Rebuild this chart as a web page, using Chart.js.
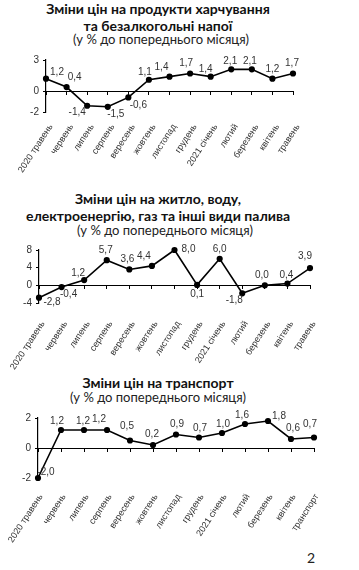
<!DOCTYPE html>
<html>
<head>
<meta charset="utf-8">
<script src="https://cdn.jsdelivr.net/npm/chart.js@4.4.1/dist/chart.umd.min.js"></script>
<style>
  body { margin: 0; background: #fff; width: 359px; height: 570px; position: relative; overflow: hidden; }
  .ttl { position: absolute; left: 0; width: 316px; text-align: center; font-family: Lato, "Open Sans", sans-serif; font-weight: bold; font-size: 14px; line-height: 17px; color: #111; }
  .sub { position: absolute; left: 0; width: 322px; text-align: center; font-family: Lato, "Open Sans", sans-serif; font-size: 13px; line-height: 15px; color: #222; }
  .box { position: absolute; left: 0; width: 359px; }
  .pg { position: absolute; left: 307px; top: 549px; font-family: Lato, sans-serif; font-size: 14px; color: #222; }
</style>
</head>
<body>
<div class="ttl" style="top:0px">Зміни цін на продукти харчування<br>та безалкогольні напої</div>
<div class="sub" style="top:32px">(у % до попереднього місяця)</div>
<div class="box" style="top:50px;height:130px"><canvas id="c1"></canvas></div>

<div class="ttl" style="top:190px">Зміни цін на житло, воду,<br>електроенергію, газ та інші види палива</div>
<div class="sub" style="top:223px;width:330px">(у % до попереднього місяця)</div>
<div class="box" style="top:240px;height:130px"><canvas id="c2"></canvas></div>

<div class="ttl" style="top:374px">Зміни цін на транспорт</div>
<div class="sub" style="top:390px;width:316px">(у % до попереднього місяця)</div>
<div class="box" style="top:408px;height:140px"><canvas id="c3"></canvas></div>

<div class="pg">2</div>

<script>
// місяці
const months1 = ['2020 травень', 'червень', 'липень', 'серпень', 'вересень', 'жовтень', 'листопад', 'грудень', '2021 січень', 'лютий', 'березень', 'квітень', 'травень'];
const months3 = ['2020 травень', 'червень', 'липень', 'серпень', 'вересень', 'жовтень', 'листопад', 'грудень', '2021 січень', 'лютий', 'березень', 'квітень', 'транспорт'];

// продукти харчування та безалкогольні напої
const food = [1.2, 0.4, -1.4, -1.5, -0.6, 1.1, 1.4, 1.7, 1.4, 2.1, 2.1, 1.2, 1.7];
const foodTicks = [-2, 0, 3];
// житло, вода, електроенергія, газ
const housing = [-2.8, -0.4, 1.2, 5.7, 3.6, 4.4, 8.0, 0.1, 6.0, -1.8, 0.0, 0.4, 3.9];
const housingTicks = [-4, 0, 4, 8];
// транспорт
const transport = [-2.0, 1.2, 1.2, 1.2, 0.5, 0.2, 0.9, 0.7, 1.0, 1.6, 1.8, 0.6, 0.7];
const transportTicks = [-2, 0, 2];

// label offsets (px) relative to point
const foodLbl = [[11,-6],[8,-10],[-10,6],[8,7],[10,8],[-4,-8],[-8,-9],[-4,-10],[-5,-7],[-1,-8],[-2,-8],[0,-9],[-1,-10]];
const housingLbl = [[13,5],[7,7],[-6,-7],[-1,-10],[-2,-10],[-8,-10],[14,-1],[0,9],[0,-10],[-8,7],[-3,-10],[-1,-8],[-5,-12]];
const transportLbl = [[8,-6],[-4,-9],[-1,-9],[-8,-11],[-3,-14],[-1,-11],[1,-10],[1,-9],[1,-9],[-3,-9],[11,-5],[2,-11],[-4,-13]];

const fontFam = '"Liberation Sans", Arial, sans-serif';

const valueLabels = {
    id: 'valueLabels',
    afterDatasetsDraw(chart, args, opts) {
        const ctx = chart.ctx;
        const meta = chart.getDatasetMeta(0);
        const vals = chart.data.datasets[0].data;
        ctx.save();
        ctx.font = '10px ' + fontFam;
        ctx.fillStyle = '#333';
        ctx.textAlign = 'center';
        ctx.textBaseline = 'middle';
        meta.data.forEach((pt, i) => {
            const off = opts.offsets[i] || [0, -9];
            ctx.fillText(vals[i].toFixed(1).replace('.', ','), pt.x + off[0], pt.y + off[1]);
        });
        ctx.restore();
    }
};

function makeChart(id, labels, values, ticks, offsets, yWidth, padTop, padRight, xHeight, lblPad, lblShift) {
    const ctx = document.getElementById(id).getContext('2d');
    return new Chart(ctx, {
        type: 'line',
        data: {
            labels: labels,
            datasets: [{
                data: values,
                borderColor: '#000',
                borderWidth: 1.6,
                pointRadius: 2.3,
                pointBackgroundColor: '#000',
                pointBorderColor: '#000',
                tension: 0,
                clip: false
            }]
        },
        options: {
            responsive: true,
            maintainAspectRatio: false,
            animation: false,
            events: [],
            layout: { padding: { top: padTop, right: padRight, left: 0, bottom: 0 } },
            plugins: {
                legend: { display: false },
                tooltip: { enabled: false },
                valueLabels: { offsets: offsets }
            },
            scales: {
                x: {
                    type: 'category',
                    position: { y: 0 },
                    offset: false,
                    ticks: { display: false },
                    grid: { drawOnChartArea: false, drawTicks: true, tickLength: 3, color: '#000' },
                    border: { display: true, color: '#000', width: 1 }
                },
                x2: {
                    type: 'category',
                    position: 'bottom',
                    offset: false,
                    grid: { display: false, drawTicks: false },
                    border: { display: false },
                    ticks: {
                        autoSkip: false,
                        maxRotation: 57,
                        minRotation: 57,
                        padding: lblPad,
                        labelOffset: lblShift,
                        color: '#333',
                        font: { family: fontFam, size: 9 }
                    },
                    afterFit(scale) {
                        scale.height = xHeight;
                        scale.paddingLeft = 0;
                        scale.paddingRight = 0;
                    }
                },
                y: {
                    min: ticks[0],
                    max: ticks[ticks.length - 1],
                    afterBuildTicks(axis) {
                        axis.ticks = ticks.map(v => ({ value: v }));
                    },
                    afterFit(scale) {
                        scale.width = yWidth;
                    },
                    grid: { drawOnChartArea: false, drawTicks: true, tickLength: 3, color: '#000' },
                    border: { display: true, color: '#000', width: 1.2 },
                    ticks: {
                        padding: 4,
                        color: '#333',
                        font: { family: fontFam, size: 10 }
                    }
                }
            }
        },
        plugins: [valueLabels]
    });
}

makeChart('c1', months1, food, foodTicks, foodLbl, 46, 9, 66, 68, 10, 5);
makeChart('c2', months1, housing, housingTicks, housingLbl, 39, 9, 49, 67, 16, 4);
makeChart('c3', months3, transport, transportTicks, transportLbl, 38, 8, 45, 70, 14, 3);
</script>
</body>
</html>
